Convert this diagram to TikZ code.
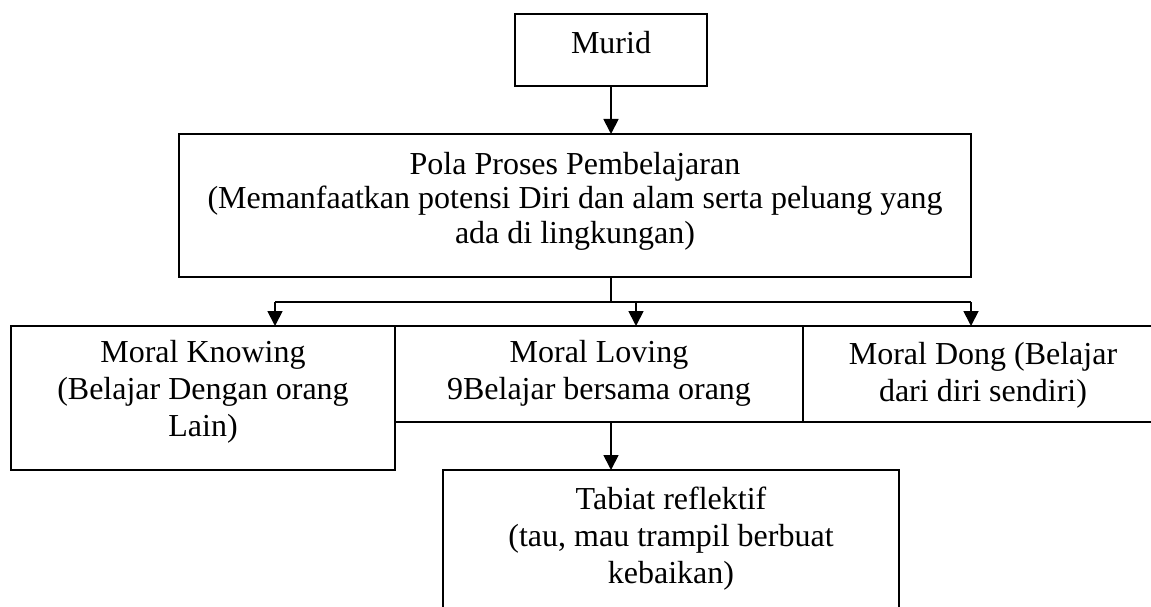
\documentclass[tikz,border=0pt]{standalone}
\usepackage{fontspec}
\setmainfont{Liberation Serif}
\usetikzlibrary{arrows.meta}
\newcommand\mlines[2]{{\fontsize{32}{#1}\selectfont\begin{tabular}[t]{@{}c@{}}#2\end{tabular}}}
\tikzset{
  boxnode/.style={draw=black, line width=1.8pt, rectangle, inner sep=0pt, outer sep=0pt, anchor=north west},
  txt/.style={anchor=base, inner sep=0pt, outer sep=0pt},
  conn/.style={draw=black, line width=1.8pt},
  arr/.style={conn, -{Triangle[length=15pt,width=15pt]}}
}
\begin{document}
\begin{tikzpicture}[x=1pt, y=-1pt]
\useasboundingbox (0,0) rectangle (1151,607);
\fill[white] (0,0) rectangle (1151,607);
\clip (0,0) rectangle (1151,607);
% boxes
\node[boxnode, minimum width=192pt, minimum height=72pt] (murid) at (515,14) {};
\node[boxnode, minimum width=792pt, minimum height=143pt] (pola) at (179,134) {};
\node[boxnode, minimum width=384pt, minimum height=144pt] (know) at (11,326) {};
\node[boxnode, minimum width=408pt, minimum height=96pt] (love) at (395,326) {};
\node[boxnode, minimum width=360pt, minimum height=96pt] (dong) at (803,326) {};
\node[boxnode, minimum width=456pt, minimum height=160pt] (tab) at (443,470) {};
% texts
\node[txt] (muridtxt) at (611,54) {\mlines{36}{Murid}};
\node[txt] (polatxt) at (575,174) {\mlines{35}{Pola Proses Pembelajaran\\(Memanfaatkan potensi Diri dan alam serta peluang yang\\ada di lingkungan)}};
\node[txt] (knowtxt) at (203,362) {\mlines{37}{Moral Knowing\\(Belajar Dengan orang\\Lain)}};
\node[txt] (lovetxt) at (599,362) {\mlines{37}{Moral Loving\\9Belajar bersama orang}};
\node[txt] (dongtxt) at (983,364) {\mlines{37}{Moral Dong (Belajar\\dari diri sendiri)}};
\node[txt] (tabtxt) at (671,509) {\mlines{37}{Tabiat reflektif\\(tau, mau trampil berbuat\\kebaikan)}};
% connectors
\coordinate (j) at (611,302);
\coordinate (hl) at (275,302);
\coordinate (hm) at (636,302);
\coordinate (hr) at (971,302);
\draw[arr] (murid.south) -- (murid.south |- pola.north);
\draw[conn] (j |- pola.south) -- (j);
\draw[conn] (hl) -- (hr);
\draw[arr] (hl) -- (hl |- know.north);
\draw[arr] (hm) -- (hm |- love.north);
\draw[arr] (hr) -- (hr |- dong.north);
\draw[arr] (j |- love.south) -- (j |- tab.north);
\end{tikzpicture}
\end{document}
